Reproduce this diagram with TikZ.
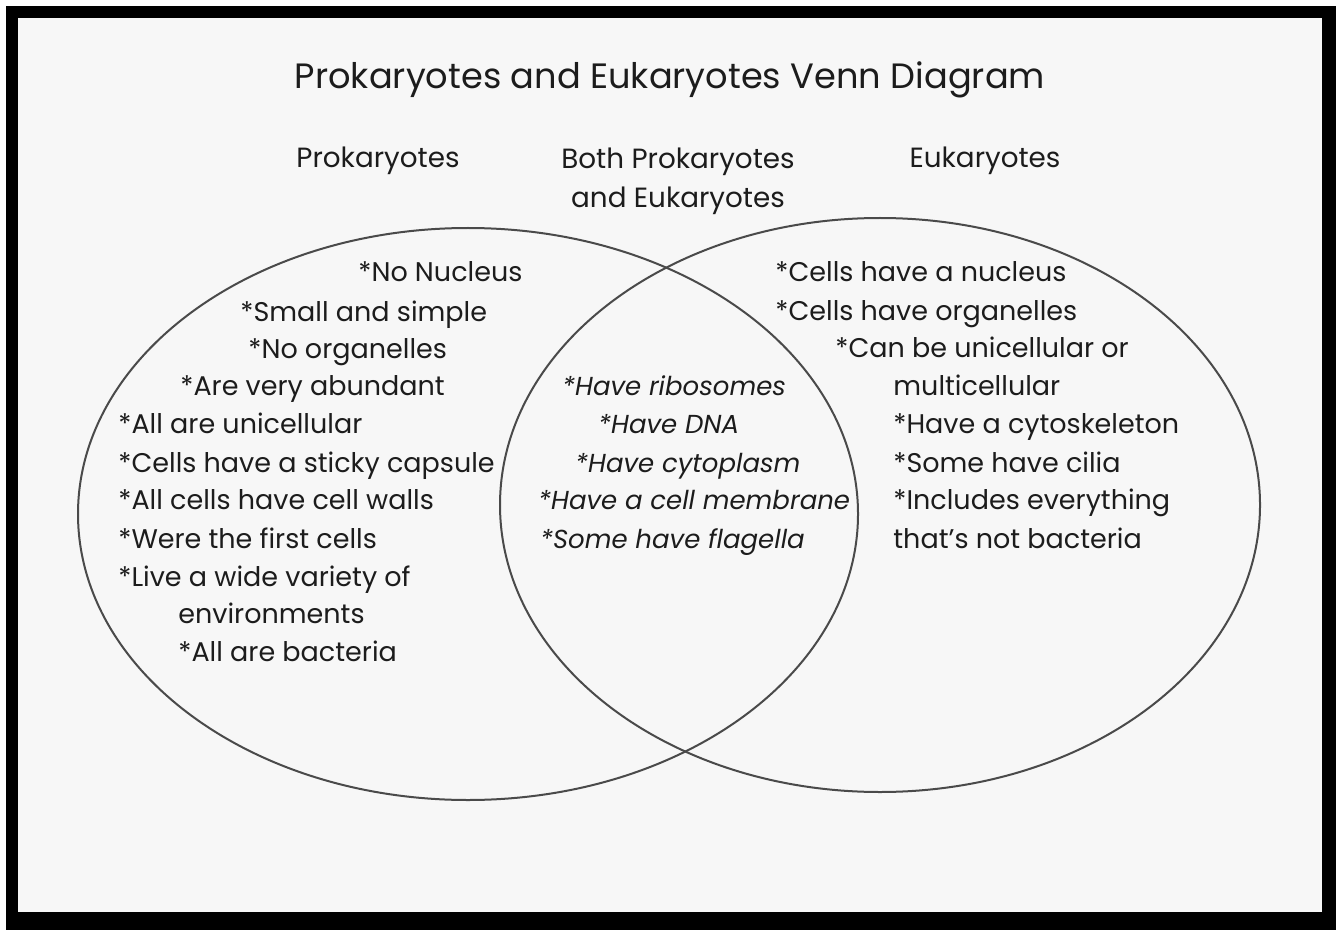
\documentclass[tikz,border=0pt]{standalone}
\usepackage{fontspec}
\setmainfont{Poppins}
\definecolor{paper}{HTML}{F7F7F7}
\definecolor{ink}{HTML}{1C1C1C}
\definecolor{rim}{HTML}{4A4A4A}
\tikzset{
  item/.style={anchor=west, inner sep=0pt, yshift=-1.5pt, text height=1.5ex, text depth=.25ex, text=ink,
    font=\fontsize{13.5}{16}\selectfont},
  both/.style={item, font=\fontsize{13}{16}\selectfont\itshape},
  head/.style={inner sep=0pt, yshift=-1.5pt, text=ink, font=\fontsize{13.9}{19.5}\selectfont},
  set/.style={draw=rim, line width=1pt}
}
\begin{document}
\begin{tikzpicture}[x=0.5pt, y=-0.5pt]
    \useasboundingbox (0,0) rectangle (1336,930);
    \fill[white] (0,0) rectangle (1336,930);
    \fill[black] (6,6) rectangle (1336,930);
    \fill[paper] (18,18) rectangle (1322,912);

    \node[head, font=\fontsize{17.6}{20}\selectfont] (title) at (670,77) {Prokaryotes and Eukaryotes Venn Diagram};

    \node[head] (prohead) at (378,158) {Prokaryotes};
    \node[head, align=center] (bothhead) at (678,178) {Both Prokaryotes\\and Eukaryotes};
    \node[head] (euhead) at (985,158) {Eukaryotes};

    \draw[set] (468,514) ellipse [x radius=390, y radius=286];
    \draw[set] (880,505) ellipse [x radius=380, y radius=287];

    % prokaryotes only
    \node[item] (p1) at (358,272) {*No Nucleus};
    \node[item] (p2) at (240,312) {*Small and simple};
    \node[item] (p3) at (248,349) {*No organelles};
    \node[item] (p4) at (180,386) {*Are very abundant};
    \node[item] (p5) at (118,424) {*All are unicellular};
    \node[item] (p6) at (118,463) {*Cells have a sticky capsule};
    \node[item] (p7) at (118,500) {*All cells have cell walls};
    \node[item] (p8) at (118,539) {*Were the first cells};
    \node[item] (p9) at (118,577) {*Live a wide variety of};
    \node[item] (p10) at (178,614) {environments};
    \node[item] (p11) at (178,652) {*All are bacteria};

    % shared
    \node[both] (b1) at (562,386) {*Have ribosomes};
    \node[both] (b2) at (598,424) {*Have DNA};
    \node[both] (b3) at (575,463) {*Have cytoplasm};
    \node[both] (b4) at (538,500) {*Have a cell membrane};
    \node[both] (b5) at (540,539) {*Some have flagella};

    % eukaryotes only
    \node[item] (e1) at (775,272) {*Cells have a nucleus};
    \node[item] (e2) at (775,311) {*Cells have organelles};
    \node[item] (e3) at (835,348) {*Can be unicellular or};
    \node[item] (e4) at (893,386) {multicellular};
    \node[item] (e5) at (893,424) {*Have a cytoskeleton};
    \node[item] (e6) at (893,463) {*Some have cilia};
    \node[item] (e7) at (893,500) {*Includes everything};
    \node[item] (e8) at (893,539) {that's not bacteria};
\end{tikzpicture}
\end{document}
